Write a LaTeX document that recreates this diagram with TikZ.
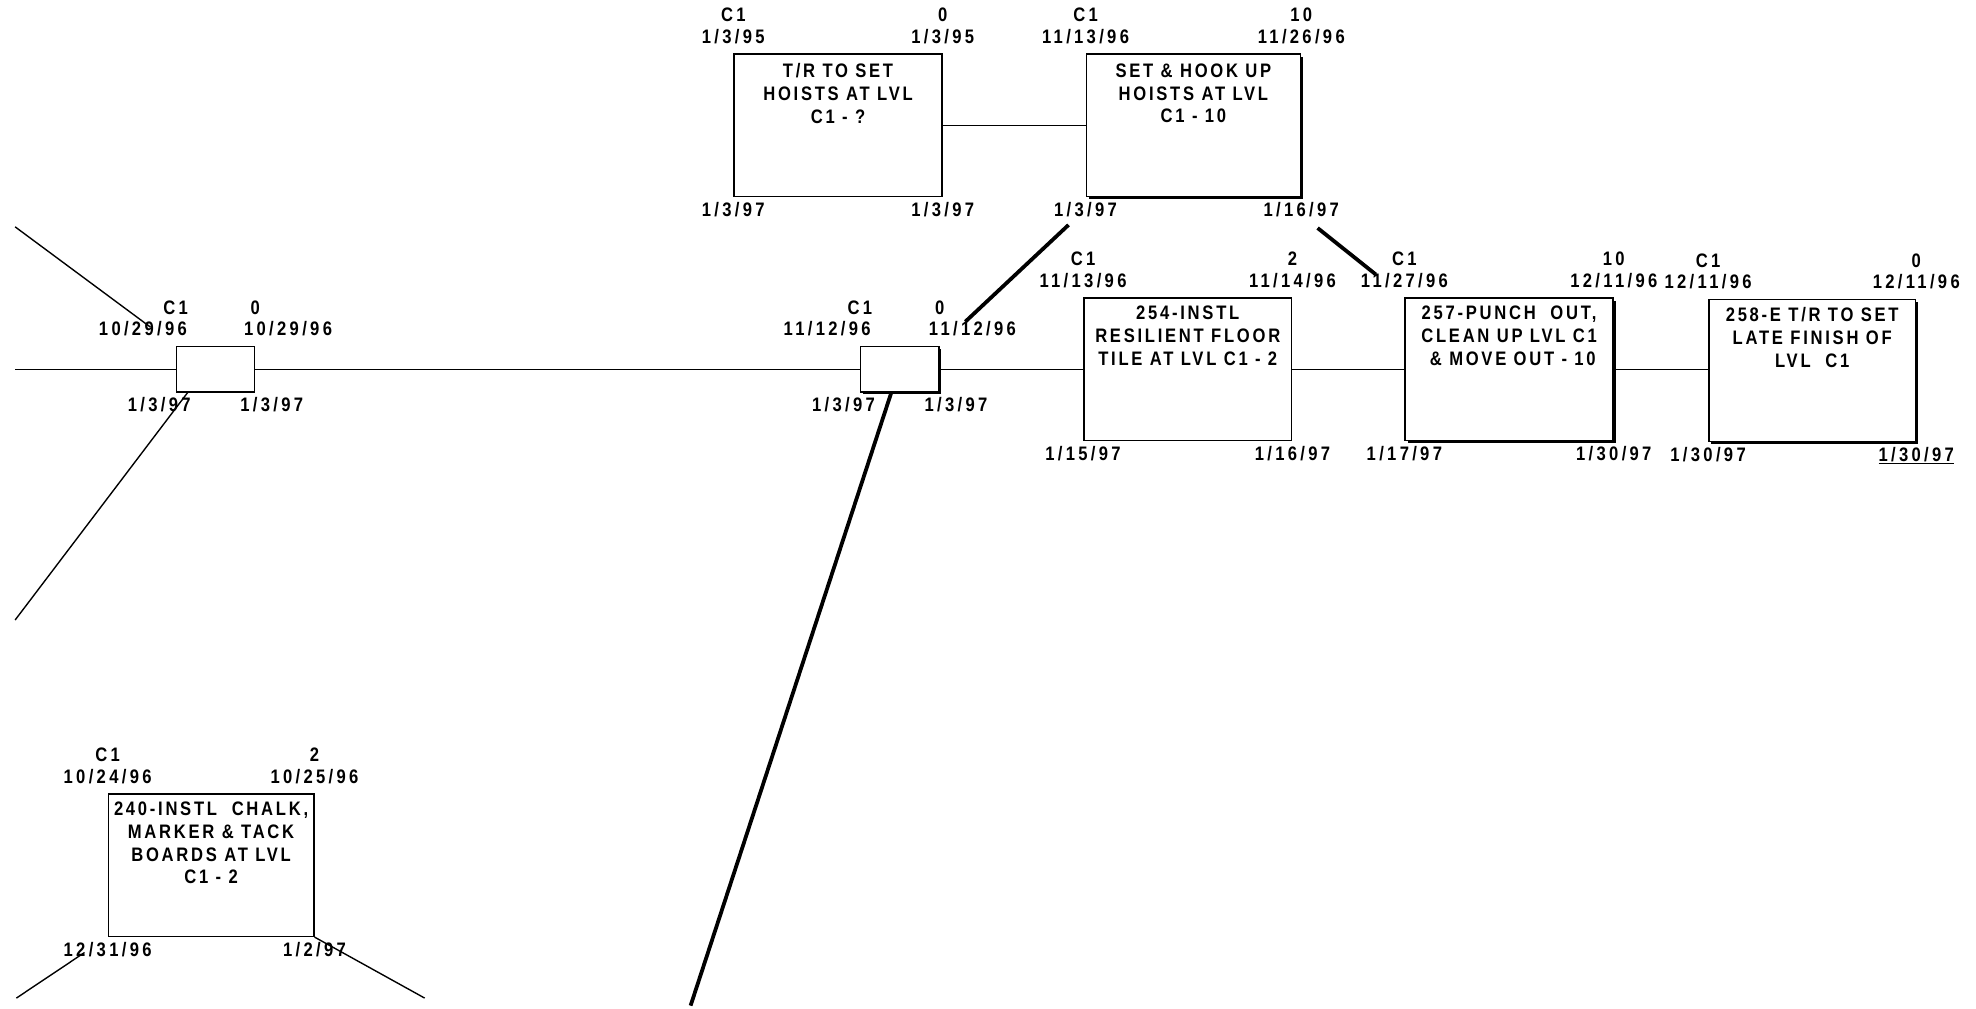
\documentclass[tikz,border=0pt]{standalone}
\usepackage{fontspec}
\newfontfamily\pertfont{Liberation Sans}[LetterSpace=17,FakeStretch=0.85]
\newfontfamily\taskfont{Liberation Sans}[LetterSpace=14,FakeStretch=0.85]
\usetikzlibrary{shadows}
\tikzset{task/.style={draw,fill=white,line width=1.2pt,inner sep=0pt,minimum width=165pt,minimum height=113pt},
 gate/.style={draw,fill=white,line width=1.2pt,inner sep=0pt,minimum width=62pt,minimum height=36pt},
 crit/.style={drop shadow={shadow xshift=2pt,shadow yshift=-2pt,fill=black,opacity=1}},
 lbl/.style={anchor=base,inner sep=0pt,font=\pertfont\bfseries\fontsize{15.5}{17}\selectfont},
 txt/.style={anchor=north,inner sep=0pt,align=center,font=\taskfont\bfseries\fontsize{15.5}{18}\selectfont},
 link/.style={line width=1.1pt},
 drive/.style={line width=3pt}}
\newcommand{\stamps}[8]{% box, area, early start, days, early finish, late start, late finish, spread
 \node[lbl] (#1-area) at ([yshift=25pt]#1.north west) {#2};
 \node[lbl] (#1-es) at ([xshift={-#8},yshift=8pt]#1.north west) {#3};
 \node[lbl] (#1-days) at ([yshift=25pt]#1.north east) {#4};
 \node[lbl] (#1-ef) at ([xshift={#8},yshift=8pt]#1.north east) {#5};
 \node[lbl] (#1-ls) at ([xshift={-0.5*#8},yshift=-15pt]#1.south west) {#6};
 \node[lbl] (#1-lf) at ([xshift={0.5*#8},yshift=-15pt]#1.south east) {#7};
}
\begin{document}
\begin{tikzpicture}[x=1pt,y=-1pt]
 \useasboundingbox[fill=white] (0,0) rectangle (1568,800);
 % activity boxes
 \node[task] (hoistTR) at (665,99.5) {};
 \node[task,crit,minimum width=170pt] (hoistSet) at (947,99.5) {};
 \node[gate] (ms1) at (171,293) {};
 \node[gate,crit] (ms2) at (714,293) {};
 \node[task] (floor) at (942.5,293) {};
 \node[task,crit] (punch) at (1197.5,293) {};
 \node[task,crit,minimum width=164pt] (late) at (1438,294) {};
 \node[task,minimum width=163pt] (boards) at (167.5,686.5) {};
 \node[txt] (hoistTR-txt) at ([yshift=-8pt]hoistTR.north) {T/R TO SET\\HOISTS AT LVL\\C1 - ?};
 \node[txt] (hoistSet-txt) at ([yshift=-8pt]hoistSet.north) {SET \& HOOK UP\\HOISTS AT LVL\\C1 - 10};
 \node[txt] (floor-txt) at ([yshift=-7pt]floor.north) {254-INSTL\\RESILIENT FLOOR\\TILE AT LVL C1 - 2};
 \node[txt] (punch-txt) at ([yshift=-7pt]punch.north) {257-PUNCH\ \ OUT,\\CLEAN UP LVL C1\\\ \& MOVE OUT - 10};
 \node[txt] (late-txt) at ([yshift=-7pt]late.north) {258-E T/R TO SET\\LATE FINISH OF\\LVL\ \ C1};
 \node[txt] (boards-txt) at ([yshift=-7pt]boards.north) {240-INSTL\ \ CHALK,\\MARKER \& TACK\\BOARDS AT LVL\\C1 - 2};
 % dates
 \stamps{hoistTR}{C1}{1/3/95}{0}{1/3/95}{1/3/97}{1/3/97}{0}
 \stamps{hoistSet}{C1}{11/13/96}{10}{11/26/96}{1/3/97}{1/16/97}{0}
 \stamps{ms1}{C1}{10/29/96}{0}{10/29/96}{1/3/97}{1/3/97}{26}
 \stamps{ms2}{C1}{11/12/96}{0}{11/12/96}{1/3/97}{1/3/97}{26}
 \stamps{floor}{C1}{11/13/96}{2}{11/14/96}{1/15/97}{1/16/97}{0}
 \stamps{punch}{C1}{11/27/96}{10}{12/11/96}{1/17/97}{1/30/97}{0}
 \stamps{late}{C1}{12/11/96}{0}{12/11/96}{1/30/97}{\underline{1/30/97}}{0}
 \stamps{boards}{C1}{10/24/96}{2}{10/25/96}{12/31/96}{1/2/97}{0}
 % loose ends
 \coordinate (leadW) at (12,293);
 \coordinate (leadNW) at (12,180);
 \coordinate (leadSW) at (12,492);
 \coordinate (leadS) at (548,798);
 \coordinate (outSW) at (13,792);
 \coordinate (outSE) at (337,792);
 % links
 \draw[link] (leadW) -- (ms1.west);
 \draw[link] (ms1.east) -- (ms2.west);
 \draw[link] (ms2.east) -- (floor.west);
 \draw[link] (floor.east) -- (punch.west);
 \draw[link] (punch.east) -- (punch.east -| late.west);
 \draw[link] (hoistTR.east) -- (hoistSet.west);
 \draw[link,shorten >=25pt] (leadNW) -- (ms1.north west);
 \draw[link] (ms1.220) -- (leadSW);
 \draw[link,shorten <=22pt] (boards.south west) -- (outSW);
 \draw[link] (boards.south east) -- (outSE);
 \draw[drive,shorten <=32pt,shorten >=28pt] (hoistSet.217) -- (ms2.north east);
 \draw[drive,shorten <=39pt,shorten >=29pt] (hoistSet.320) -- (punch.north west);
 \draw[drive] (ms2.250) -- (leadS);
\end{tikzpicture}
\end{document}
